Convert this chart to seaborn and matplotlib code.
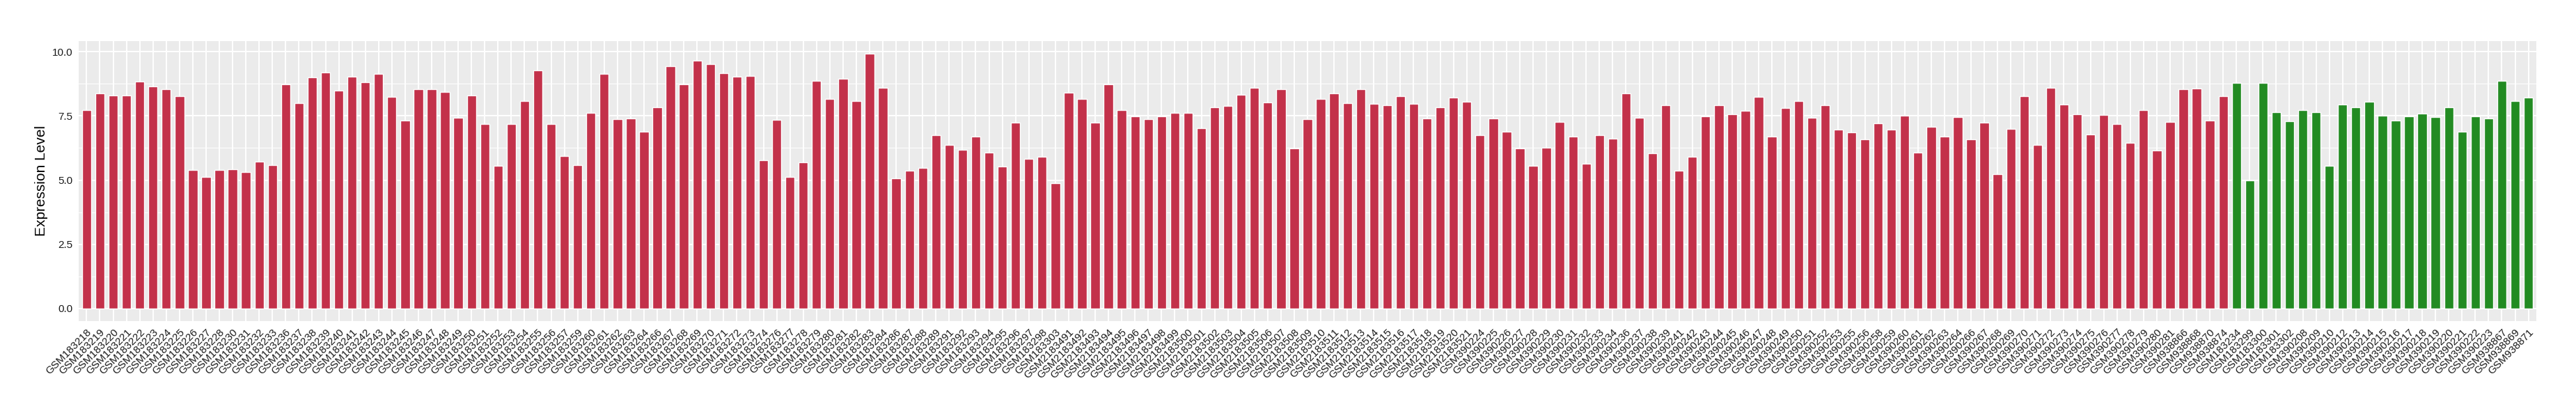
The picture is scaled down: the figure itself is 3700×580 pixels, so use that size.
import matplotlib
matplotlib.use("Agg")
import matplotlib.pyplot as plt
import seaborn as sns
import pandas as pd
from matplotlib.ticker import FixedLocator

samples_group1 = [
    "GSM183218", "GSM183219", "GSM183220", "GSM183221", "GSM183222", "GSM183223", "GSM183224", "GSM183225",
    "GSM183226", "GSM183227", "GSM183228", "GSM183230", "GSM183231", "GSM183232", "GSM183233", "GSM183236",
    "GSM183237", "GSM183238", "GSM183239", "GSM183240", "GSM183241", "GSM183242", "GSM183243", "GSM183244",
    "GSM183245", "GSM183246", "GSM183247", "GSM183248", "GSM183249", "GSM183250", "GSM183251", "GSM183252",
    "GSM183253", "GSM183254", "GSM183255", "GSM183256", "GSM183257", "GSM183259", "GSM183260", "GSM183261",
    "GSM183262", "GSM183263", "GSM183264", "GSM183266", "GSM183267", "GSM183268", "GSM183269", "GSM183270",
    "GSM183271", "GSM183272", "GSM183273", "GSM183274", "GSM183276", "GSM183277", "GSM183278", "GSM183279",
    "GSM183280", "GSM183281", "GSM183282", "GSM183283", "GSM183284", "GSM183286", "GSM183287", "GSM183288",
    "GSM183289", "GSM183291", "GSM183292", "GSM183293", "GSM183294", "GSM183295", "GSM183296", "GSM183297",
    "GSM183298", "GSM183303",
    "GSM2183491", "GSM2183492", "GSM2183493", "GSM2183494", "GSM2183495", "GSM2183496", "GSM2183497",
    "GSM2183498", "GSM2183499", "GSM2183500", "GSM2183501", "GSM2183502", "GSM2183503", "GSM2183504",
    "GSM2183505", "GSM2183506", "GSM2183507", "GSM2183508", "GSM2183509", "GSM2183510", "GSM2183511",
    "GSM2183512", "GSM2183513", "GSM2183514", "GSM2183515", "GSM2183516", "GSM2183517", "GSM2183518",
    "GSM2183519", "GSM2183520", "GSM2183521",
    "GSM390224", "GSM390225", "GSM390226", "GSM390227", "GSM390228", "GSM390229", "GSM390230", "GSM390231",
    "GSM390232", "GSM390233", "GSM390234", "GSM390236", "GSM390237", "GSM390238", "GSM390239", "GSM390241",
    "GSM390242", "GSM390243", "GSM390244", "GSM390245", "GSM390246", "GSM390247", "GSM390248", "GSM390249",
    "GSM390250", "GSM390251", "GSM390252", "GSM390253", "GSM390255", "GSM390256", "GSM390258", "GSM390259",
    "GSM390260", "GSM390261", "GSM390262", "GSM390263", "GSM390264", "GSM390266", "GSM390267", "GSM390268",
    "GSM390269", "GSM390270", "GSM390271", "GSM390272", "GSM390273", "GSM390274", "GSM390275", "GSM390276",
    "GSM390277", "GSM390278", "GSM390279", "GSM390280", "GSM390281",
    "GSM938866", "GSM938868", "GSM938870", "GSM938874",
]
values_group1 = [
    7.74, 8.39, 8.30, 8.30, 8.83, 8.64, 8.53, 8.27, 5.39, 5.11,
    5.39, 5.42, 5.31, 5.73, 5.59, 8.72, 7.99, 9.00, 9.20, 8.50,
    9.03, 8.81, 9.14, 8.25, 7.32, 8.55, 8.53, 8.44, 7.43, 8.30,
    7.18, 5.56, 7.18, 8.08, 9.28, 7.18, 5.95, 5.59, 7.63, 9.14,
    7.38, 7.41, 6.90, 7.83, 9.45, 8.72, 9.65, 9.53, 9.17, 9.03,
    9.06, 5.78, 7.35, 5.11, 5.70, 8.86, 8.16, 8.95, 8.08, 9.93,
    8.61, 5.06, 5.36, 5.48, 6.76, 6.37, 6.18, 6.71, 6.06, 5.53,
    7.24, 5.84, 5.90, 4.89, 8.41, 8.16, 7.24, 8.72, 7.74, 7.49,
    7.38, 7.49, 7.63, 7.63, 7.01, 7.83, 7.88, 8.33, 8.61, 8.02,
    8.55, 6.23, 7.38, 8.16, 8.39, 7.99, 8.53, 7.97, 7.91, 8.27,
    7.97, 7.41, 7.85, 8.22, 8.05, 6.76, 7.41, 6.90, 6.23, 5.56,
    6.26, 7.27, 6.71, 5.64, 6.76, 6.62, 8.39, 7.43, 6.04, 7.91,
    5.36, 5.90, 7.49, 7.91, 7.57, 7.69, 8.25, 6.71, 7.80, 8.08,
    7.43, 7.91, 6.96, 6.85, 6.60, 7.21, 6.96, 7.52, 6.06, 7.07,
    6.71, 7.46, 6.60, 7.24, 5.22, 6.99, 8.27, 6.37, 8.61, 7.94,
    7.57, 6.79, 7.55, 7.18, 6.46, 7.74, 6.15, 7.27, 8.55, 8.58,
    7.32, 8.27,
]
samples_group2 = [
    "GSM183234", "GSM183299", "GSM183300", "GSM183301", "GSM183302",
    "GSM390208", "GSM390209", "GSM390210", "GSM390212", "GSM390213", "GSM390214", "GSM390215",
    "GSM390216", "GSM390217", "GSM390218", "GSM390219", "GSM390220", "GSM390221", "GSM390222",
    "GSM390223", "GSM938867", "GSM938869", "GSM938871",
]
values_group2 = [
    8.78, 5.00, 8.78, 7.66, 7.29, 7.74, 7.66, 5.56, 7.94, 7.85, 8.05, 7.52,
    7.32, 7.49, 7.60, 7.46, 7.83, 6.88, 7.49, 7.41, 8.86, 8.08, 8.22,
]
group_names = ["Group 1", "Group 2"]
group_colors = ["#C3314A", "#228B22"]
y_ticks = [0.0, 2.5, 5.0, 7.5, 10.0]
y_tick_labels = ["0.0", "2.5", "5.0", "7.5", "10.0"]

df = pd.DataFrame({
    "sample": samples_group1 + samples_group2,
    "value": values_group1 + values_group2,
    "group": [group_names[0]] * len(samples_group1) + [group_names[1]] * len(samples_group2),
})

sns.set_theme(style="darkgrid")
plt.rcParams["font.family"] = ["Liberation Sans", "DejaVu Sans"]

fig = plt.figure(figsize=(37, 5.8), dpi=100)
ax = fig.add_axes([113 / 3700, 1 - 461 / 580, (3643 - 113) / 3700, (461 - 58.6) / 580])

sns.barplot(data=df, x="sample", y="value", hue="group", order=df["sample"].tolist(),
            hue_order=group_names, palette=dict(zip(group_names, group_colors)),
            dodge=False, width=0.7, saturation=1, legend=False, ax=ax)

n = len(df)
ax.set_xlim(-0.6, n - 1 + 0.6)
ymax = max(df["value"])
ax.set_ylim(-0.05 * ymax, ymax * 1.05)
ax.set_facecolor("#EBEBEB")
ax.yaxis.set_major_locator(FixedLocator(y_ticks))
ax.set_yticklabels(y_tick_labels)
ax.yaxis.set_minor_locator(FixedLocator([1.25, 3.75, 6.25, 8.75]))
ax.grid(which="major", axis="both", color="white", linewidth=1.4)
ax.grid(which="minor", axis="y", color="white", linewidth=0.7)
ax.set_axisbelow(True)
for s in ax.spines.values():
    s.set_visible(False)

ax.tick_params(axis="both", which="major", length=4, width=1, color="#333333",
               labelsize=11, labelcolor="#1a1a1a", pad=2)
ax.tick_params(axis="y", which="minor", length=0)
plt.setp(ax.get_xticklabels(), rotation=45, ha="right", va="top", rotation_mode="anchor")
ax.set_xlabel("")
ax.set_ylabel("Expression Level", fontsize=15, color="black", labelpad=4)

fig.savefig("out.png", dpi=100)
